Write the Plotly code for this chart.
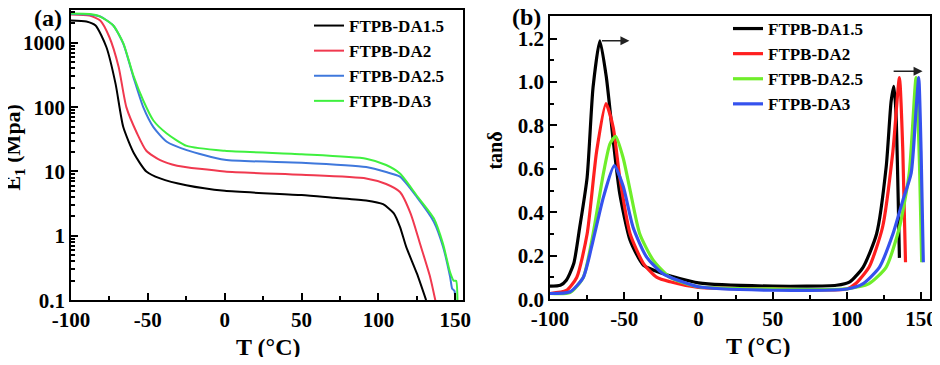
import plotly.graph_objects as go

# ---- panel (a): storage modulus E1 (MPa) vs T ----
t_a15 = [-100, -90, -84, -77, -71, -66, -59, -51, -42, -25, 0, 50, 71, 92, 103, 110, 114, 118, 125, 131]
e_a15 = [2230, 2150, 1860, 860, 230, 49, 19, 10, 7.8, 6.1, 5.0, 4.3, 3.9, 3.55, 3.1, 2.24, 1.38, 0.68, 0.26, 0.1]

t_a2 = [-100, -88, -81, -75, -69, -64, -57, -51, -42, -31, 0, 50, 92, 105, 114, 121, 127, 133.6, 137]
e_a2 = [2760, 2650, 2220, 1220, 420, 100, 39, 21, 15, 12.3, 10, 8.9, 7.8, 6.4, 4.8, 2.2, 0.76, 0.23, 0.1]

t_a25 = [-100, -88, -81, -72.5, -66, -59.4, -53, -46.4, -37.7, -24.7, 0, 50, 92, 105, 114, 125, 136, 142, 146.6, 148, 149.4, 150]
e_a25 = [2800, 2750, 2560, 1860, 970, 293, 100, 49, 29, 21.5, 15.2, 13.7, 11.7, 9.8, 8.3, 4.0, 1.66, 0.68, 0.23, 0.15, 0.14, 0.1]

t_a3 = [-100, -88, -81, -72.5, -66, -59.4, -53, -46.4, -37.7, -24.7, 0, 50, 92, 105, 114, 125, 136, 142, 146.6, 149, 150.5, 151.4]
e_a3 = [2850, 2800, 2560, 1860, 990, 310, 127, 62, 39, 25, 21, 18.5, 15.8, 12.6, 9.3, 4.2, 1.87, 0.75, 0.27, 0.2, 0.2, 0.1]

# ---- panel (b): tan delta vs T ----
t_b15 = [-100, -93, -89, -84, -80, -75, -71, -66.4, -62, -57.4, -53, -46, -37, -24, 0, 50, 93, 102, 111, 120, 126.5, 129.8, 131.6, 133, 135.4]
d_b15 = [0.06, 0.064, 0.087, 0.164, 0.33, 0.56, 0.975, 1.19, 1.02, 0.73, 0.485, 0.27, 0.156, 0.118, 0.075, 0.06, 0.064, 0.08, 0.148, 0.30, 0.61, 0.91, 0.98, 0.87, 0.19]

t_b2 = [-100, -89, -82, -75, -68.6, -62.3, -57.4, -53, -46, -37, -28, -19, 0, 50, 100, 106, 115, 124, 131, 135.4, 137.7, 139.5]
d_b2 = [0.026, 0.04, 0.10, 0.30, 0.68, 0.90, 0.79, 0.56, 0.30, 0.164, 0.10, 0.08, 0.054, 0.047, 0.047, 0.072, 0.148, 0.33, 0.68, 1.02, 0.68, 0.17]

t_b25 = [-100, -86.5, -77.6, -71, -64, -59.6, -55.8, -50.7, -46, -39.5, -30.5, -19, 0, 50, 100, 115, 126.5, 135.4, 142, 146.6, 149, 150.4]
d_b25 = [0.026, 0.03, 0.10, 0.30, 0.58, 0.715, 0.75, 0.65, 0.50, 0.30, 0.18, 0.10, 0.057, 0.047, 0.047, 0.072, 0.148, 0.33, 0.58, 1.02, 0.60, 0.17]

t_b3 = [-100, -86.5, -77.6, -71, -64, -56.7, -50.7, -44, -35, -24, 0, 50, 100, 111, 122, 131, 137.7, 143.3, 146.6, 148.4, 150, 151.5]
d_b3 = [0.026, 0.034, 0.10, 0.27, 0.47, 0.615, 0.52, 0.33, 0.195, 0.118, 0.057, 0.041, 0.047, 0.072, 0.148, 0.30, 0.455, 0.58, 0.87, 1.02, 0.68, 0.17]

names = ["FTPB-DA1.5", "FTPB-DA2", "FTPB-DA2.5", "FTPB-DA3"]
x_ticks = [-100, -50, 0, 50, 100, 150]
x_ticktext = ["-100", "-50", "0", "50", "100", "150"]
FONT = "Liberation Serif"

# the page body margin (8px) shifts the figure; shrink it so the page does not scroll
OFF = 8
W, H = 940 - OFF, 365 - 2 * OFF


def fx(p):
    return (p - OFF) / W


def fy(p):
    return 1 - (p - OFF) / H


fig = go.Figure()

cols_a = ["#000000", "#f0394f", "#3f78dc", "#3ff03f"]
for t, e, n, c in zip([t_a15, t_a2, t_a25, t_a3], [e_a15, e_a2, e_a25, e_a3], names, cols_a):
    fig.add_trace(go.Scatter(x=t, y=e, name=n, mode="lines",
                             line=dict(color=c, width=2, shape="spline", smoothing=0.6),
                             xaxis="x", yaxis="y", legend="legend"))

cols_b = ["#000000", "#ff1f1f", "#6fee2a", "#3552ee"]
for t, d, n, c in zip([t_b15, t_b2, t_b25, t_b3], [d_b15, d_b2, d_b25, d_b3], names, cols_b):
    fig.add_trace(go.Scatter(x=t, y=d, name=n, mode="lines",
                             line=dict(color=c, width=3.2, shape="spline", smoothing=0.6),
                             xaxis="x2", yaxis="y2", legend="legend2"))

tickfont = dict(family=FONT, size=21, color="black", weight="bold")
common = dict(showline=True, linecolor="black", linewidth=1.5, mirror=True,
              ticks="inside", ticklen=7, tickwidth=1.5, tickcolor="black",
              showgrid=False, zeroline=False, tickfont=tickfont, automargin=False)

legfont = dict(family=FONT, size=17, color="black", weight="bold")
fig.update_layout(
    width=W, height=H,
    margin=dict(l=0, r=0, t=0, b=0),
    plot_bgcolor="white", paper_bgcolor="white",
    xaxis=dict(domain=[fx(71), fx(463)], range=[-100, 155], tickvals=x_ticks, ticktext=x_ticktext,
               minor=dict(ticks="inside", dtick=25, tick0=0, ticklen=4, tickcolor="black"),
               anchor="y", **common),
    yaxis=dict(domain=[fy(300), fy(9)], type="log", range=[-1, 3.51],
               tickvals=[0.1, 1, 10, 100, 1000], ticktext=["0.1", "1", "10", "100", "1000"],
               minor=dict(ticks="inside", dtick="D1", ticklen=4, tickcolor="black"),
               anchor="x", **common),
    xaxis2=dict(domain=[fx(550), fx(930)], range=[-100, 156], tickvals=x_ticks, ticktext=x_ticktext,
                minor=dict(ticks="inside", dtick=25, tick0=0, ticklen=4, tickcolor="black"),
                anchor="y2", **common),
    yaxis2=dict(domain=[fy(299), fy(15)], range=[0, 1.304], tickvals=[0, 0.2, 0.4, 0.6, 0.8, 1.0, 1.2],
                ticktext=["0.0", "0.2", "0.4", "0.6", "0.8", "1.0", "1.2"],
                minor=dict(ticks="inside", dtick=0.1, ticklen=4, tickcolor="black"),
                anchor="x2", **common),
    legend=dict(x=fx(309), y=fy(7), xanchor="left", yanchor="top", bgcolor="rgba(0,0,0,0)",
                font=legfont, tracegroupgap=0, itemwidth=30),
    legend2=dict(x=fx(728), y=fy(11), xanchor="left", yanchor="top", bgcolor="rgba(0,0,0,0)",
                 font=legfont, tracegroupgap=0, itemwidth=30),
)

big = dict(family=FONT, size=24, color="black", weight="bold")
labels = [("(a)", 48, 17, 0, big), ("(b)", 526, 16, 0, big),
          ("T (°C)", 268, 347, 0, big), ("T (°C)", 758, 346, 0, big),
          ("E<sub>1</sub> (Mpa)", 14, 147, -90, dict(big, size=22)),
          ("tanδ", 495, 150, -90, dict(big, size=20))]
for txt, px_, py_, ang, f in labels:
    fig.add_annotation(text=txt, x=fx(px_), y=fy(py_), xref="paper", yref="paper",
                       xanchor="center", yanchor="middle", showarrow=False, textangle=ang, font=f)

# shift arrows in panel (b)
for x0, x1, y in [(-66, -46.5, 1.19), (130.5, 151, 1.05)]:
    fig.add_annotation(x=x1, y=y, ax=x0, ay=y, xref="x2", yref="y2", axref="x2", ayref="y2",
                       text="", showarrow=True, arrowhead=2, arrowsize=1.2, arrowwidth=1.5,
                       arrowcolor="#222222")

fig.write_html("out.html")
